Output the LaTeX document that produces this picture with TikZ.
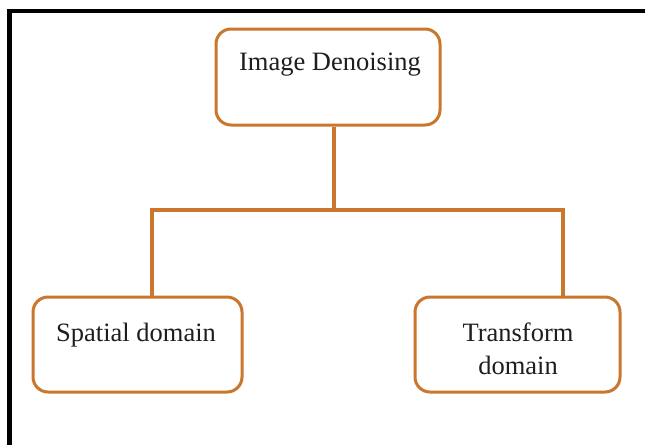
\documentclass[tikz,border=0pt]{standalone}
\usepackage{fontspec}
\setmainfont{Liberation Serif}
\definecolor{boxorange}{RGB}{203,118,45}
\definecolor{txt}{RGB}{30,30,30}
\begin{document}
\begin{tikzpicture}[x=1pt,y=-1pt,
  box/.style={draw=boxorange,line width=3pt,rounded corners=15pt,fill=white,inner sep=0pt},
  lbl/.style={text=txt,font=\fontsize{26.5}{33}\selectfont,align=center,inner sep=0pt},
  conn/.style={draw=boxorange,line width=4pt}]
\useasboundingbox (0,0) rectangle (645,445);
\fill[white] (0,0) rectangle (645,445);
\draw[line width=4.5pt,black] (9.5,445) -- (9.5,11) -- (645,11);
% boxes
\node[box,minimum width=224pt,minimum height=96pt] (top) at (328,77) {};
\node[box,minimum width=209pt,minimum height=95pt] (left) at (137.5,344.5) {};
\node[box,minimum width=205pt,minimum height=95pt] (right) at (517.5,344.5) {};
% labels
\node[lbl] (toptext) at (330,65) {Image Denoising};
\node[lbl] (lefttext) at (136,335) {Spatial domain};
\node[lbl] (righttext) at (518,349) {Transform\\domain};
% connectors
\coordinate (j) at (334,210);
\coordinate (jl) at (152,210);
\coordinate (jr) at (563,210);
\draw[conn] (top.south -| j) -- (j);
\draw[conn] (left.north -| jl) -- (jl) -- (jr) -- (right.north -| jr);
\end{tikzpicture}
\end{document}
